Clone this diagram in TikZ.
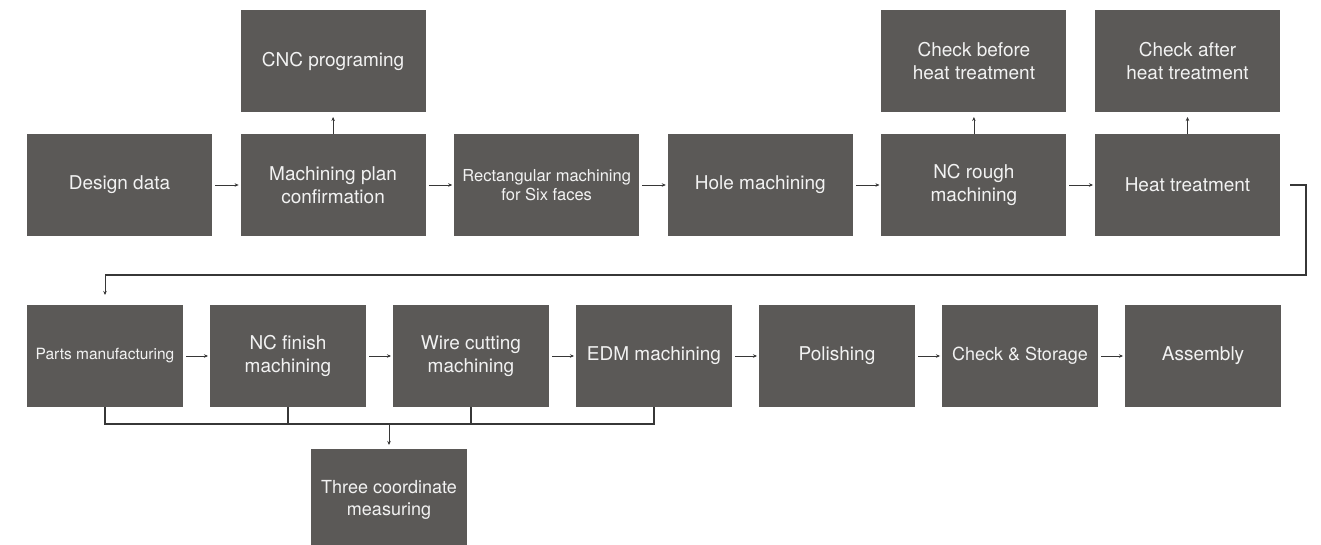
\documentclass[tikz,border=0pt]{standalone}
\usepackage{fontspec}
\setmainfont{TeX Gyre Heros}
\usetikzlibrary{positioning,arrows.meta,calc}
\definecolor{boxgray}{RGB}{91,89,87}
\definecolor{boxtext}{RGB}{242,242,242}
\definecolor{linegray}{RGB}{55,55,55}
\tikzset{
	stage/.style={rectangle,fill=boxgray,text=boxtext,minimum width=185pt,minimum height=102pt,
		inner sep=0pt,outer sep=0pt,align=center,font=\fontsize{19}{23}\selectfont},
	part/.style={stage,minimum width=156pt},
	link/.style={->,draw=linegray,line width=0.8pt,shorten >=2pt,shorten <=3pt},
	up/.style={link,shorten <=0pt,shorten >=5pt},
	bus/.style={draw=linegray,line width=1.8pt}
}

\begin{document}
\begin{tikzpicture}[x=1pt,y=-1pt,>={Stealth[length=4pt,width=3.5pt]},node distance=28.6pt]
	
	\clip (0,0) rectangle (1321,545);
	
	% first row
	\node[stage] (design) at (119.5,185) {Design data};
	\node[stage] (plan) [right=of design] {Machining plan\\confirmation};
	\node[stage,font=\fontsize{16.5}{19}\selectfont] (rect) [right=of plan] {Rectangular machining\\for Six faces};
	\node[stage] (hole) [right=of rect] {Hole machining};
	\node[stage] (rough) [right=of hole] {NC rough\\machining};
	\node[stage] (heat) [right=of rough] {Heat treatment};
	\node[stage] (cnc) [above=22pt of plan] {CNC programing};
	\node[stage] (before) [above=22pt of rough] {Check before\\heat treatment};
	\node[stage] (after) [above=22pt of heat] {Check after\\heat treatment};
	
	% second row
	\node[part,font=\fontsize{15.5}{18}\selectfont] (parts) at (105,356) {Parts manufacturing};
	\node[part] (finish) [right=27pt of parts] {NC finish\\machining};
	\node[part] (wire) [right=27pt of finish] {Wire cutting\\machining};
	\node[part] (edm) [right=27pt of wire] {EDM machining};
	\node[part] (polish) [right=27pt of edm] {Polishing};
	\node[part,font=\fontsize{18}{22}\selectfont] (store) [right=27pt of polish] {Check \& Storage};
	\node[part] (assembly) [right=27pt of store] {Assembly};
	\node[part,font=\fontsize{18}{22}\selectfont] (measure) at (389,500) {Three coordinate\\measuring};
	
	\path[link] (design) edge (plan);
	\path[link] (plan) edge (rect);
	\path[link] (rect) edge (hole);
	\path[link] (hole) edge (rough);
	\path[link] (rough) edge (heat);
	\path[up] (plan) edge (cnc);
	\path[up] (rough) edge (before);
	\path[up] (heat) edge (after);
	
	\coordinate (turn) at ($(heat.east)+(26,90)$);
	\draw[bus] ([xshift=10pt]heat.east) -| (turn) -- (turn -| parts.north);
	\draw[link,shorten <=0pt,shorten >=10pt] (turn -| parts.north) -- (parts.north);
	
	\path[link] (parts) edge (finish);
	\path[link] (finish) edge (wire);
	\path[link] (wire) edge (edm);
	\path[link] (edm) edge (polish);
	\path[link] (polish) edge (store);
	\path[link] (store) edge (assembly);
	
	\coordinate (bus) at ($(parts.south)+(0,17)$);
	\draw[bus] (parts.south) |- (bus -| edm.south) -- (edm.south);
	\draw[bus] (finish.south) -- (finish.south |- bus);
	\draw[bus] (wire.south) -- (wire.south |- bus);
	\draw[link,shorten <=0pt,shorten >=4pt] (measure.north |- bus) -- (measure.north);
	
\end{tikzpicture}
\end{document}
